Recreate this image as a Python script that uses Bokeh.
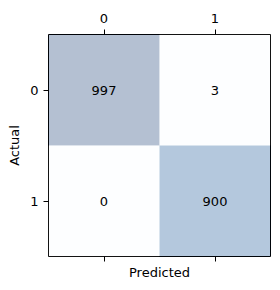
from bokeh.plotting import figure
from bokeh.models import ColumnDataSource, LinearColorMapper, LinearAxis, FixedTicker, Range1d
from bokeh.palettes import Blues256
from bokeh.transform import transform
from bokeh.core.properties import value
from bokeh.embed import file_html
from bokeh.resources import INLINE

# Data
predicted = [0, 1, 0, 1]
actual = [0, 0, 1, 1]
counts = [997, 3, 0, 900]
tick_values = [0, 1]
tick_labels = ["0", "1"]

src = ColumnDataSource(dict(
    predicted=predicted,
    actual=actual,
    counts=counts,
    label=[str(c) for c in counts],
))

FONT = "DejaVu Sans"

p = figure(frame_width=222, frame_height=222, output_backend="svg", toolbar_location=None,
           x_range=Range1d(-0.5, 1.5), y_range=Range1d(1.5, -0.5),
           x_axis_location=None, y_axis_location=None,
           min_border_left=48, min_border_right=2, min_border_top=34, min_border_bottom=24)
p.grid.visible = False
p.outline_line_color = "black"
p.outline_line_width = 1
p.outline_line_alpha = 1
p.background_fill_color = "white"
p.border_fill_color = "white"

mapper = LinearColorMapper(palette=list(Blues256[::-1]), low=min(counts), high=max(counts))
p.rect(x="predicted", y="actual", width=1, height=1, source=src,
       fill_color=transform("counts", mapper), fill_alpha=0.3, line_color=None)
p.text(x="predicted", y="actual", text="label", source=src,
       text_align="center", text_baseline="middle",
       text_font=value(FONT), text_font_size="13px", text_color="black")

def style_axis(ax, show_labels=True):
    ax.ticker = FixedTicker(ticks=tick_values)
    ax.major_label_overrides = {v: l for v, l in zip(tick_values, tick_labels)}
    ax.major_tick_out = 5
    ax.major_tick_in = 0
    ax.minor_tick_out = 0
    ax.minor_tick_in = 0
    ax.axis_line_color = None
    ax.major_tick_line_color = "black"
    ax.major_label_text_font = FONT
    ax.major_label_text_font_size = "13px"
    ax.major_label_text_color = "black"
    ax.axis_label_text_font = FONT
    ax.axis_label_text_font_size = "13px"
    ax.axis_label_text_font_style = "normal"
    ax.axis_label_text_color = "black"
    if not show_labels:
        ax.major_label_text_font_size = "0px"
        ax.major_label_text_alpha = 0

top = LinearAxis()
style_axis(top)
top.major_label_standoff = 7
p.add_layout(top, "above")

bottom = LinearAxis(axis_label="Predicted")
style_axis(bottom, show_labels=False)
bottom.axis_label_standoff = 3
p.add_layout(bottom, "below")

left = LinearAxis(axis_label="Actual")
style_axis(left)
left.major_label_orientation = "horizontal"
left.major_label_standoff = 5
p.add_layout(left, "left")

open("out.html", "w").write(file_html(p, INLINE))
